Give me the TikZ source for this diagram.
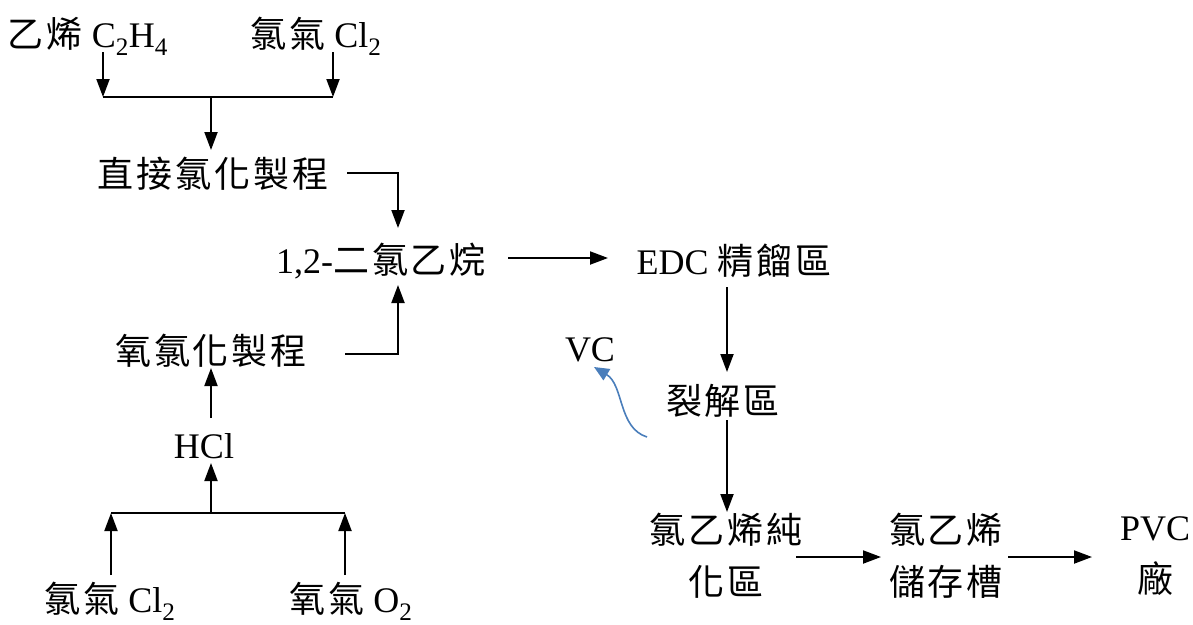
\documentclass[tikz,border=0pt]{standalone}
\usepackage{fontspec}
\setmainfont{Liberation Serif}
\newfontfamily\cjk[LetterSpace=8]{Noto Sans CJK TC}
\usetikzlibrary{arrows.meta}
\begin{document}
\begin{tikzpicture}[x=1pt,y=-1pt,
  lbl/.style={font=\fontsize{36}{52}\selectfont, inner sep=0pt, align=center},
  ln/.style={line width=2pt},
  arr/.style={ln,-{Triangle[length=18pt,width=13pt]}},
  varr/.style={line width=1.6pt, draw=vcblue, -{Triangle[length=15pt,width=13pt]}}]
\definecolor{vcblue}{RGB}{74,126,187}
\useasboundingbox (0,0) rectangle (1193,624);
% nodes
\node[lbl] (eth) at (88,36) {{\cjk 乙烯} C\textsubscript{2}H\textsubscript{4}};
\node[lbl] (cl1) at (316,36) {{\cjk 氯氣} Cl\textsubscript{2}};
\node[lbl] (direct) at (213,174) {\cjk 直接氯化製程};
\node[lbl] (edc) at (381,261) {1,2-{\cjk 二氯乙烷}};
\node[lbl] (dist) at (734,261) {EDC {\cjk 精餾區}};
\node[lbl] (crack) at (723,401) {\cjk 裂解區};
\node[lbl] (vc) at (590,350) {VC};
\node[lbl] (oxy) at (211,351) {\cjk 氧氯化製程};
\node[lbl] (hcl) at (204,446) {HCl};
\node[lbl] (cl2) at (110,601) {{\cjk 氯氣} Cl\textsubscript{2}};
\node[lbl] (o2) at (351,601) {{\cjk 氧氣} O\textsubscript{2}};
\node[lbl] (pur) at (726,556) {{\cjk 氯乙烯純}\\{\cjk 化區}};
\node[lbl] (tank) at (946,556) {{\cjk 氯乙烯}\\{\cjk 儲存槽}};
\node[lbl] (pvc) at (1155,556) {PVC\\{\cjk 廠}};
% coordinates
\coordinate (a1) at (103,52);  \coordinate (a2) at (103,97);
\coordinate (b1) at (333,52);  \coordinate (b2) at (333,97);
\coordinate (j1) at (211,97);  \coordinate (j2) at (211,150);
\coordinate (d1) at (347,173); \coordinate (d2) at (398,173); \coordinate (d3) at (398,228);
\coordinate (o1) at (345,354); \coordinate (o2c) at (398,354); \coordinate (o3) at (398,285);
\coordinate (e1) at (508,258); \coordinate (e2) at (608,258);
\coordinate (s1) at (727,287); \coordinate (s2) at (727,372);
\coordinate (s3) at (727,420); \coordinate (s4) at (727,512);
\coordinate (p1) at (796,557); \coordinate (p2) at (881,557);
\coordinate (t1) at (1008,557); \coordinate (t2) at (1092,557);
\coordinate (h1) at (211,418); \coordinate (h2) at (211,368);
\coordinate (k1) at (211,513); \coordinate (k2) at (211,463);
\coordinate (m1) at (111,575); \coordinate (m2) at (111,513);
\coordinate (n1) at (345,575); \coordinate (n2) at (345,513);
\coordinate (vs) at (647,437); \coordinate (vt) at (594,367);
% connectors
\draw[arr] (a1) -- (a2);
\draw[arr] (b1) -- (b2);
\draw[ln] (a2) -- (b2);
\draw[arr] (j1) -- (j2);
\draw[arr] (d1) -- (d2) -- (d3);
\draw[arr] (o1) -- (o2c) -- (o3);
\draw[arr] (e1) -- (e2);
\draw[arr] (s1) -- (s2);
\draw[arr] (s3) -- (s4);
\draw[arr] (p1) -- (p2);
\draw[arr] (t1) -- (t2);
\draw[arr] (h1) -- (h2);
\draw[arr] (k1) -- (k2);
\draw[ln] (m2) -- (n2);
\draw[arr] (m1) -- (m2);
\draw[arr] (n1) -- (n2);
\draw[varr] (vs) .. controls (618,428) and (624,385) .. (vt);
\end{tikzpicture}
\end{document}
